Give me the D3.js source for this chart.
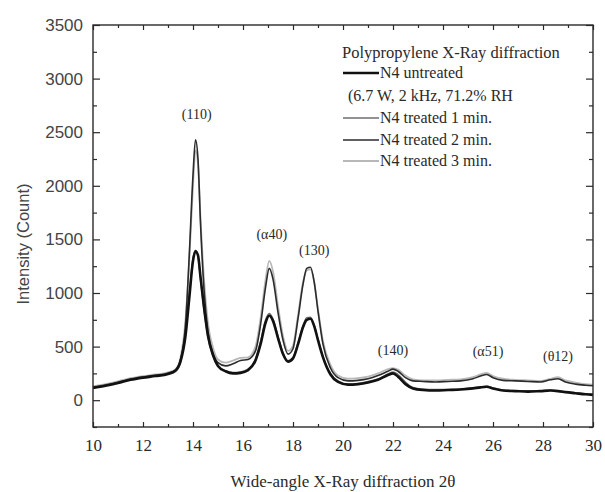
<!DOCTYPE html>
<html>
<head>
<meta charset="utf-8">
<script src="https://cdn.jsdelivr.net/npm/d3@7"></script>
<style>
  body { margin: 0; background: #fff; }
  svg { display: block; }
</style>
</head>
<body>
<svg id="chart" width="605" height="492"></svg>
<script>
// two-theta positions (deg) where the curves were read
const theta = [10, 10.5, 11, 11.5, 12, 12.5, 13, 13.3, 13.5, 13.7, 13.85, 14.0, 14.1, 14.2, 14.3, 14.45, 14.6, 14.8, 15.0, 15.3, 15.6, 15.9, 16.2, 16.5, 16.7, 16.9, 17.05, 17.2, 17.4, 17.6, 17.8, 18.0, 18.2, 18.4, 18.55, 18.7, 18.85, 19.0, 19.2, 19.5, 19.8, 20.2, 20.6, 21.0, 21.4, 21.8, 22.0, 22.2, 22.5, 22.8, 23.2, 23.7, 24.2, 24.7, 25.2, 25.5, 25.75, 26.0, 26.4, 26.9, 27.4, 27.9, 28.3, 28.6, 28.9, 29.3, 29.7, 30.0];

const untreated = [115, 135, 160, 190, 210, 225, 245, 275, 360, 600, 950, 1300, 1390, 1350, 1150, 850, 600, 420, 320, 270, 250, 255, 280, 370, 520, 720, 790, 740, 580, 430, 360, 390, 520, 680, 750, 760, 690, 560, 400, 240, 170, 145, 150, 165, 190, 235, 250, 220, 150, 110, 95, 90, 95, 100, 110, 120, 125, 110, 90, 85, 80, 85, 90, 85, 75, 65, 55, 50];
const treated1 = [125, 145, 170, 200, 220, 235, 255, 285, 380, 650, 1000, 1330, 1400, 1340, 1120, 820, 580, 410, 315, 275, 260, 265, 290, 390, 550, 750, 810, 760, 600, 445, 370, 400, 540, 700, 770, 775, 700, 570, 410, 250, 180, 150, 155, 175, 200, 245, 265, 240, 170, 120, 105, 100, 100, 105, 115, 125, 130, 115, 95, 90, 88, 90, 95, 90, 80, 70, 62, 58];
const treated2 = [120, 140, 165, 195, 215, 230, 250, 280, 380, 700, 1350, 2100, 2430, 2250, 1650, 1000, 640, 440, 350, 320, 340, 370, 380, 460, 700, 1050, 1230, 1130, 820, 560, 430, 480, 760, 1080, 1230, 1240, 1100, 830, 520, 300, 210, 180, 185, 200, 230, 270, 290, 270, 210, 180, 175, 170, 175, 180, 200, 225, 240, 210, 185, 180, 175, 170, 190, 200, 170, 150, 140, 135];
const treated3 = [130, 150, 175, 205, 225, 240, 260, 290, 400, 750, 1300, 2000, 2330, 2200, 1700, 1100, 720, 490, 380, 350, 370, 395, 400, 500, 760, 1120, 1300, 1200, 880, 600, 460, 510, 790, 1100, 1210, 1220, 1100, 850, 550, 330, 230, 200, 205, 220, 250, 290, 300, 285, 230, 195, 185, 185, 190, 195, 215, 240, 255, 225, 200, 190, 185, 180, 200, 215, 185, 165, 150, 145];

const seriesNames = ['N4 untreated', 'N4 treated 1 min.', 'N4 treated 2 min.', 'N4 treated 3 min.'];
const peakLabels = ['(110)', '(α40)', '(130)', '(140)', '(α51)', '(θ12)'];
const peakTheta = [14.15, 17.15, 18.85, 22.0, 25.8, 28.6];
const peakLabelY = [2620, 1500, 1350, 420, 410, 370];
const xTicks = [10, 12, 14, 16, 18, 20, 22, 24, 26, 28, 30];
const yTicks = [0, 500, 1000, 1500, 2000, 2500, 3000, 3500];

const svg = d3.select('#chart');
const margin = { top: 25, right: 12, bottom: 65, left: 93 };
const width = 605;
const height = 492;
const serif = "'Liberation Serif', 'Times New Roman', serif";
const sans = "'Liberation Sans', Arial, sans-serif";
const ink = '#2a2a2a';

const x = d3.scaleLinear().domain([10, 30]).range([margin.left, width - margin.right]);
const y = d3.scaleLinear().domain([-250, 3500]).range([height - margin.bottom, margin.top]);

const styles = [
  { data: untreated, color: '#111', w: 2.6 },
  { data: treated1, color: '#6e6e6e', w: 1.3 },
  { data: treated2, color: '#2b2b2b', w: 1.6 },
  { data: treated3, color: '#b8b8b8', w: 1.8 },
];

// curves, lightest first so the dark ones sit on top
const line = d3.line()
  .x((d) => x(d[0]))
  .y((d) => y(d[1]))
  .curve(d3.curveMonotoneX);

const drawOrder = [3, 1, 2, 0];
const g = svg.append('g').attr('id', 'curves');
drawOrder.forEach((i) => {
  const s = styles[i];
  g.append('path')
    .attr('d', line(theta.map((t, k) => [t, s.data[k]])))
    .attr('fill', 'none')
    .attr('stroke', s.color)
    .attr('stroke-width', s.w)
    .attr('stroke-linejoin', 'round');
});

// axes with inward ticks, mirrored on top / right
const xL = margin.left;
const xR = width - margin.right;
const yB = height - margin.bottom;
const yT = margin.top;
const minorX = d3.range(11, 30, 2);
const minorY = d3.range(-250, 3500, 500);

const axisB = d3.axisBottom(x).tickValues(xTicks).tickSize(-5).tickPadding(12).tickFormat(d3.format('d'));
const axisBMinor = d3.axisBottom(x).tickValues(minorX).tickSize(-3).tickFormat('');
const axisL = d3.axisLeft(y).tickValues(yTicks).tickSize(-7).tickPadding(10).tickFormat(d3.format('d'));
const axisLMinor = d3.axisLeft(y).tickValues(minorY).tickSize(-4).tickFormat('');
const axisT = d3.axisTop(x).tickValues(xTicks).tickSize(-5).tickFormat('');
const axisTMinor = d3.axisTop(x).tickValues(minorX).tickSize(-3).tickFormat('');
const axisR = d3.axisRight(y).tickValues(yTicks).tickSize(-7).tickFormat('');
const axisRMinor = d3.axisRight(y).tickValues(minorY).tickSize(-4).tickFormat('');

function place(axis, tx, ty) {
  const a = svg.append('g').attr('transform', `translate(${tx},${ty})`).call(axis);
  a.select('.domain').remove();
  a.selectAll('line').attr('stroke', ink).attr('stroke-width', 1.2);
  return a;
}

place(axisB, 0, yB).selectAll('text')
  .attr('font-family', serif).attr('font-size', 17).attr('fill', ink);
place(axisBMinor, 0, yB);
place(axisL, xL, 0).selectAll('text')
  .attr('font-family', sans).attr('font-size', 17).attr('fill', '#444');
place(axisLMinor, xL, 0);
place(axisT, 0, yT);
place(axisTMinor, 0, yT);
place(axisR, xR, 0);
place(axisRMinor, xR, 0);

svg.append('rect')
  .attr('x', xL).attr('y', yT)
  .attr('width', xR - xL).attr('height', yB - yT)
  .attr('fill', 'none')
  .attr('stroke', ink)
  .attr('stroke-width', 1.4);

// axis titles
svg.append('text')
  .attr('x', (xL + xR) / 2)
  .attr('y', 487)
  .attr('text-anchor', 'middle')
  .attr('font-family', serif)
  .attr('font-size', 17)
  .attr('fill', ink)
  .text('Wide-angle X-Ray diffraction 2θ');

svg.append('text')
  .attr('transform', `translate(29, ${(yB + yT) / 2 + 18}) rotate(-90)`)
  .attr('text-anchor', 'middle')
  .attr('font-family', sans)
  .attr('font-size', 16.5)
  .attr('fill', '#444')
  .text('Intensity (Count)');

// peak labels
svg.selectAll('.peak')
  .data(peakLabels)
  .enter()
  .append('text')
  .attr('class', 'peak')
  .attr('x', (d, i) => x(peakTheta[i]))
  .attr('y', (d, i) => y(peakLabelY[i]))
  .attr('text-anchor', 'middle')
  .attr('font-family', serif)
  .attr('font-size', 14)
  .attr('fill', ink)
  .text((d) => d);

// legend
const lg = svg.append('g').attr('transform', 'translate(342, 0)');
lg.append('text')
  .attr('x', 0).attr('y', 58)
  .attr('font-family', serif).attr('font-size', 16.5).attr('fill', ink)
  .text('Polypropylene X-Ray diffraction');

const legendY = [73, 118, 140, 161];
seriesNames.forEach((name, i) => {
  const s = styles[i];
  lg.append('line')
    .attr('x1', 1).attr('x2', 37)
    .attr('y1', legendY[i]).attr('y2', legendY[i])
    .attr('stroke', s.color)
    .attr('stroke-width', s.w);
  lg.append('text')
    .attr('x', 38).attr('y', legendY[i] + 5)
    .attr('font-family', serif).attr('font-size', 16).attr('fill', ink)
    .text(name);
});
lg.append('text')
  .attr('x', 6).attr('y', 101)
  .attr('font-family', serif).attr('font-size', 16).attr('fill', ink)
  .text('(6.7 W, 2 kHz, 71.2% RH');
</script>
</body>
</html>
